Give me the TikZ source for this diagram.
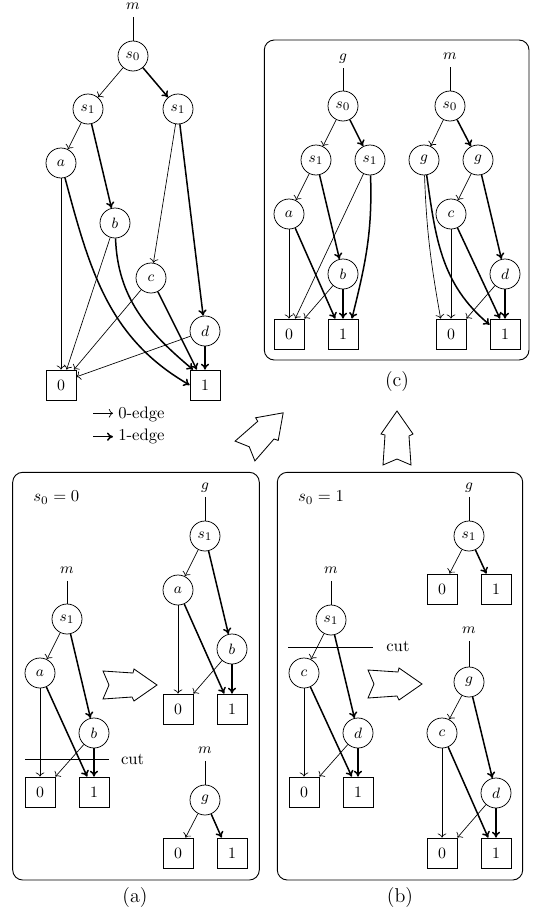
\documentclass[tikz,border=0pt]{standalone}
\usetikzlibrary{arrows.meta}
\newcommand\lblfont{\fontsize{9.5}{11}\selectfont}
\newcommand\digfont{\fontsize{9.5}{11}\selectfont}
\begin{document}
\begin{tikzpicture}[x=0.6pt,y=-0.6pt,
  vnode/.style={circle,draw,line width=0.45pt,minimum size=18pt,inner sep=0pt,font=\lblfont},
  tnode/.style={rectangle,draw,line width=0.45pt,minimum size=18pt,inner sep=0pt,font=\digfont},
  rootlbl/.style={inner sep=0pt,text height=1.2ex,text depth=0.5ex,outer sep=2.5pt,font=\lblfont,anchor=base},
  stem/.style={line width=0.45pt},
  zedge/.style={->,line width=0.4pt},
  oedge/.style={-{To[length=3.6pt,width=5pt]},line width=0.9pt},
  panel/.style={draw,line width=0.55pt,rounded corners=6pt},
  bigarrow/.style={draw,line width=0.5pt,line join=miter},
  plain/.style={inner sep=0pt,anchor=base west},
  openarrow/.pic={\draw[bigarrow] (0,-14) -- (30,-12) -- (31,-16) -- (54,0) -- (31,16) -- (29,12) -- (0,14) -- (6,0) -- cycle;}
]
\useasboundingbox (0,0) rectangle (537,917);

% ---------------- top-left diagram ----------------
\node[rootlbl] (Tm) at (133,9.5) {$m$};
\node[vnode] (Ts0) at (133,56) {$s_0$};
\node[vnode] (Ts1a) at (88,109) {$s_1$};
\node[vnode] (Ts1b) at (178,109) {$s_1$};
\node[vnode] (Ta) at (61,163) {$a$};
\node[vnode] (Tb) at (115,223) {$b$};
\node[vnode] (Tc) at (151,278) {$c$};
\node[vnode] (Td) at (205,331) {$d$};
\node[tnode] (T0) at (61,385) {0};
\node[tnode] (T1) at (205,385) {1};
\draw[stem] (Tm) -- (Ts0);
\draw[zedge] (Ts0) -- (Ts1a);
\draw[oedge] (Ts0) -- (Ts1b);
\draw[zedge] (Ts1a) -- (Ta);
\draw[oedge] (Ts1a) -- (Tb);
\draw[zedge] (Ts1b) -- (Tc);
\draw[oedge] (Ts1b) -- (Td);
\draw[zedge] (Ta) -- (T0);
\draw[oedge] (Ta.-75) to[out=-75,in=150] (T1.west);
\draw[zedge] (Tb) -- (T0.70);
\draw[oedge] (Tb.-88) to[out=-88,in=140] (T1.128);
\draw[zedge] (Tc) -- (T0.50);
\draw[oedge] (Tc) -- (T1.118);
\draw[zedge] (Td) -- (T0.28);
\draw[oedge] (Td) -- (T1);

% legend
\coordinate (L0s) at (93,413.3);
\coordinate (L1s) at (93,436.7);
\node[plain,inner sep=3pt] (L0) at (113,418) {0-edge};
\node[plain,inner sep=3pt] (L1) at (113,440.5) {1-edge};
\draw[zedge] (L0s) -- (L0.west |- L0s);
\draw[oedge] (L1s) -- (L1.west |- L1s);

% ---------------- panel (c) ----------------
\draw[panel] (264.3,40) rectangle (529,360);
\node[font=\large] (labc) at (397,382) {(c)};

\node[rootlbl] (CLg) at (343,60.5) {$g$};
\node[vnode] (CLs0) at (343,106) {$s_0$};
\node[vnode] (CLs1a) at (316,160) {$s_1$};
\node[vnode] (CLs1b) at (370,160) {$s_1$};
\node[vnode] (CLa) at (289,214) {$a$};
\node[vnode] (CLb) at (343,274) {$b$};
\node[tnode] (CL0) at (289,334) {0};
\node[tnode] (CL1) at (343,334) {1};
\draw[stem] (CLg) -- (CLs0);
\draw[zedge] (CLs0) -- (CLs1a);
\draw[oedge] (CLs0) -- (CLs1b);
\draw[zedge] (CLs1a) -- (CLa);
\draw[oedge] (CLs1a) -- (CLb);
\draw[zedge] (CLs1b) -- (CL0.68);
\draw[oedge] (CLs1b.-88) to[out=-88,in=76] (CL1.60);
\draw[zedge] (CLa) -- (CL0);
\draw[oedge] (CLa) -- (CL1.117);
\draw[zedge] (CLb) -- (CL0.north east);
\draw[oedge] (CLb) -- (CL1);

\node[rootlbl] (CRm) at (450,59.5) {$m$};
\node[vnode] (CRs0) at (450,106) {$s_0$};
\node[vnode] (CRga) at (424,160) {$g$};
\node[vnode] (CRgb) at (478,160) {$g$};
\node[vnode] (CRc) at (451,214) {$c$};
\node[vnode] (CRd) at (505,274) {$d$};
\node[tnode] (CR0) at (451,334) {0};
\node[tnode] (CR1) at (505,334) {1};
\draw[stem] (CRm) -- (CRs0);
\draw[zedge] (CRs0) -- (CRga);
\draw[oedge] (CRs0) -- (CRgb);
\draw[zedge] (CRga.-88) to[out=-88,in=100] (CR0.124);
\draw[oedge] (CRga.-80) to[out=-82,in=140] (CR1.149);
\draw[zedge] (CRgb) -- (CRc);
\draw[oedge] (CRgb) -- (CRd);
\draw[zedge] (CRc) -- (CR0);
\draw[oedge] (CRc) -- (CR1.108);
\draw[zedge] (CRd) -- (CR0.north east);
\draw[oedge] (CRd) -- (CR1);

% transformation arrows
\pic[rotate=45] at (245,451) {openarrow};
\pic[rotate=90] at (397,465) {openarrow};

% ---------------- panel (a) ----------------
\draw[panel] (12.7,472.3) rectangle (259.3,880);
\node[font=\large] (laba) at (135,897) {(a)};
\node[plain] (As0) at (33,501.5) {$s_0 = 0$};

\node[rootlbl] (ALm) at (67,573) {$m$};
\node[vnode] (ALs1) at (67,619) {$s_1$};
\node[vnode] (ALa) at (40,673) {$a$};
\node[vnode] (ALb) at (94,733) {$b$};
\node[tnode] (AL0) at (40,792) {0};
\node[tnode] (AL1) at (94,792) {1};
\draw[stem] (ALm) -- (ALs1);
\draw[zedge] (ALs1) -- (ALa);
\draw[oedge] (ALs1) -- (ALb);
\draw[zedge] (ALa) -- (AL0);
\draw[oedge] (ALa) -- (AL1.114);
\draw[zedge] (ALb) -- (AL0.north east);
\draw[oedge] (ALb) -- (AL1);
\draw[line width=0.55pt] (25,759) -- (109,759);
\node[plain] (Acut) at (120.7,764.3) {cut};

\pic at (103,685) {openarrow};

\node[rootlbl] (ARg) at (205,489) {$g$};
\node[vnode] (ARs1) at (205,536) {$s_1$};
\node[vnode] (ARa) at (178,590) {$a$};
\node[vnode] (ARb) at (232,649) {$b$};
\node[tnode] (AR0) at (178,709) {0};
\node[tnode] (AR1) at (232,709) {1};
\draw[stem] (ARg) -- (ARs1);
\draw[zedge] (ARs1) -- (ARa);
\draw[oedge] (ARs1) -- (ARb);
\draw[zedge] (ARa) -- (AR0);
\draw[oedge] (ARa) -- (AR1.117);
\draw[zedge] (ARb) -- (AR0.north east);
\draw[oedge] (ARb) -- (AR1);

\node[rootlbl] (ABm) at (205,753) {$m$};
\node[vnode] (ABg) at (205,800) {$g$};
\node[tnode] (AB0) at (178,853) {0};
\node[tnode] (AB1) at (232,853) {1};
\draw[stem] (ABm) -- (ABg);
\draw[zedge] (ABg) -- (AB0.64);
\draw[oedge] (ABg) -- (AB1.124);

% ---------------- panel (b) ----------------
\draw[panel] (277.3,472.3) rectangle (522.7,880);
\node[font=\large] (labb) at (400,897) {(b)};
\node[plain] (Bs0) at (297.7,501.5) {$s_0 = 1$};

\node[rootlbl] (BLm) at (331,573) {$m$};
\node[vnode] (BLs1) at (331,620) {$s_1$};
\node[vnode] (BLc) at (304,673) {$c$};
\node[vnode] (BLd) at (358,733) {$d$};
\node[tnode] (BL0) at (304,792) {0};
\node[tnode] (BL1) at (358,792) {1};
\draw[stem] (BLm) -- (BLs1);
\draw[zedge] (BLs1) -- (BLc);
\draw[oedge] (BLs1) -- (BLd);
\draw[zedge] (BLc) -- (BL0);
\draw[oedge] (BLc) -- (BL1.112);
\draw[zedge] (BLd) -- (BL0.north east);
\draw[oedge] (BLd) -- (BL1);
\draw[line width=0.55pt] (288,647) -- (373,647);
\node[plain] (Bcut) at (386,651.7) {cut};

\pic at (368,684) {openarrow};

\node[rootlbl] (BRg) at (469,489) {$g$};
\node[vnode] (BRs1) at (469,536) {$s_1$};
\node[tnode] (BR0) at (442,589) {0};
\node[tnode] (BR1) at (496,589) {1};
\draw[stem] (BRg) -- (BRs1);
\draw[zedge] (BRs1) -- (BR0.64);
\draw[oedge] (BRs1) -- (BR1.122);

\node[rootlbl] (BBm) at (469,633) {$m$};
\node[vnode] (BBg) at (469,682) {$g$};
\node[vnode] (BBc) at (442,733) {$c$};
\node[vnode] (BBd) at (496,793) {$d$};
\node[tnode] (BB0) at (442,853) {0};
\node[tnode] (BB1) at (496,853) {1};
\draw[stem] (BBm) -- (BBg);
\draw[zedge] (BBg) -- (BBc);
\draw[oedge] (BBg) -- (BBd);
\draw[zedge] (BBc) -- (BB0);
\draw[oedge] (BBc) -- (BB1.117);
\draw[zedge] (BBd) -- (BB0.north east);
\draw[oedge] (BBd) -- (BB1);
\end{tikzpicture}
\end{document}
